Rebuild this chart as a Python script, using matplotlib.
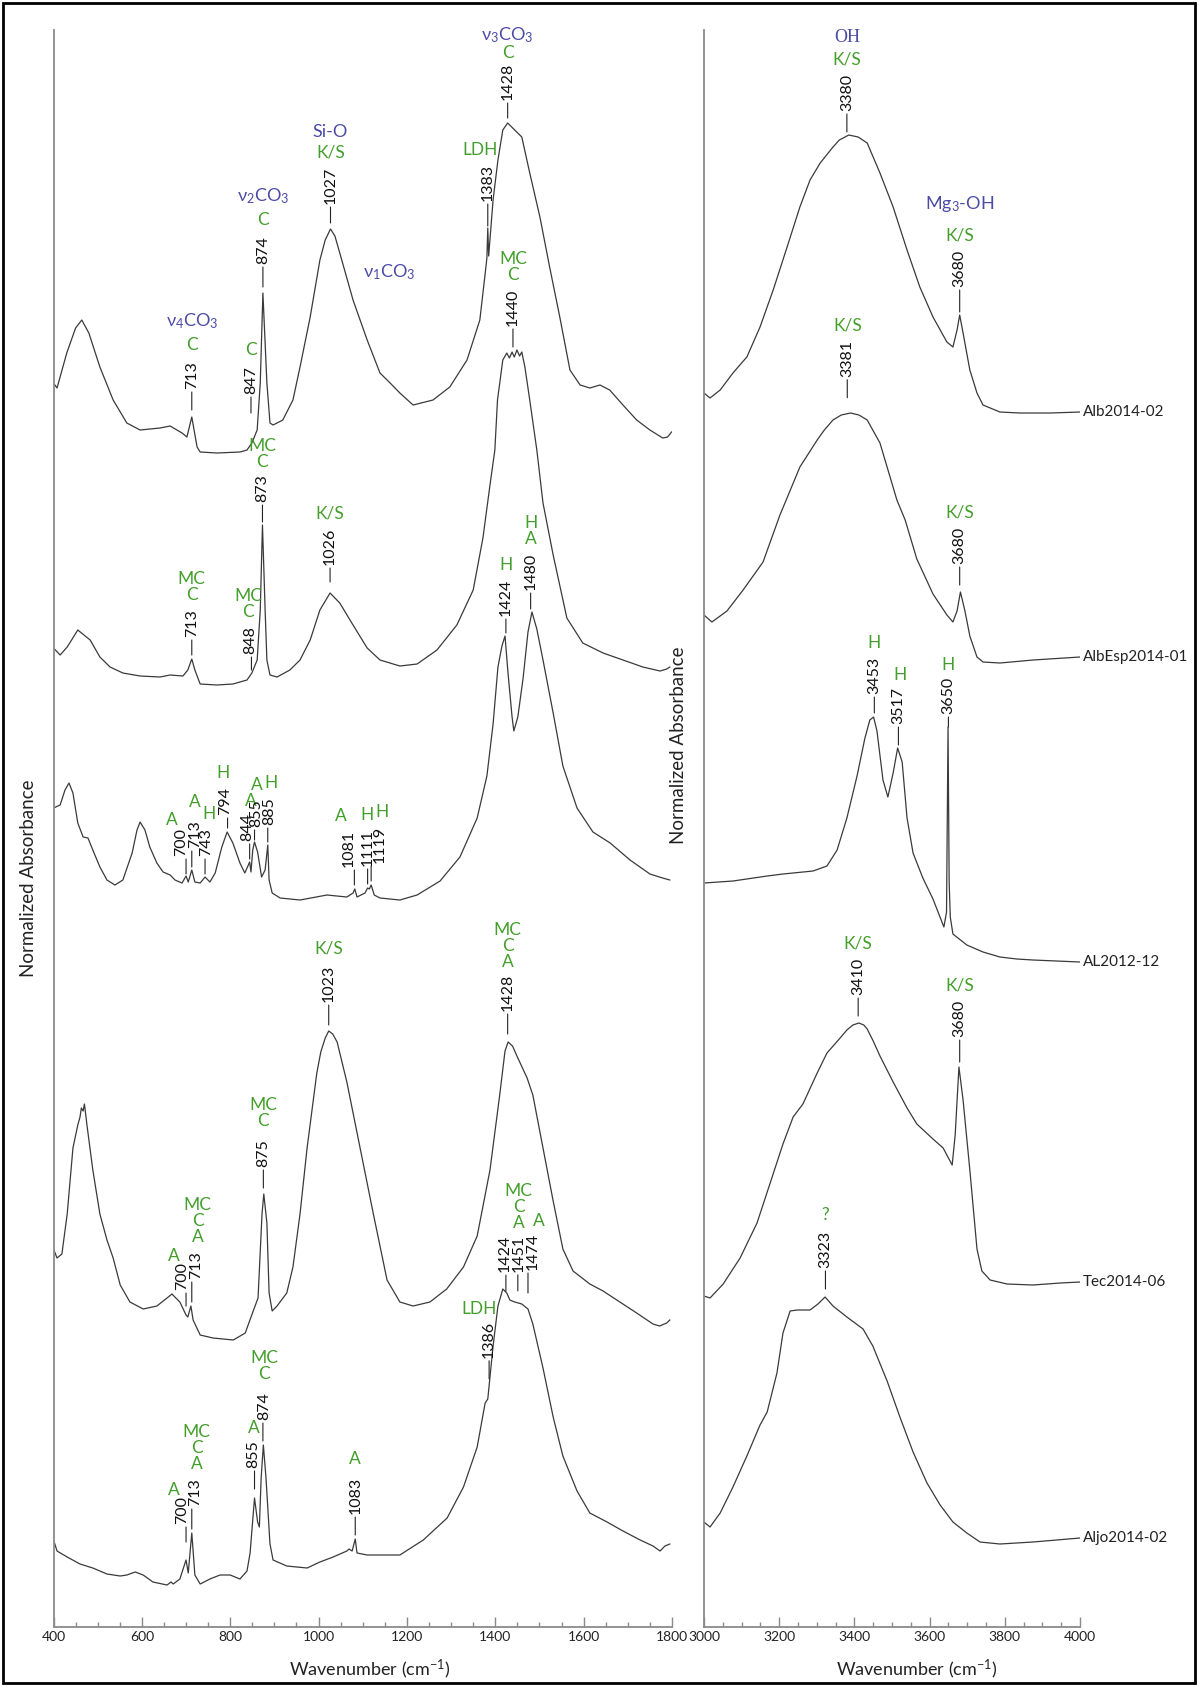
import matplotlib
matplotlib.use('Agg')
import matplotlib.pyplot as plt
import numpy as np
from matplotlib.patches import Rectangle

plt.rcParams['font.family'] = ['Lato', 'DejaVu Sans']
plt.rcParams['mathtext.fontset'] = 'custom'
plt.rcParams['mathtext.rm'] = 'Lato'
plt.rcParams['mathtext.it'] = 'Lato:italic'
plt.rcParams['mathtext.default'] = 'regular'
plt.rcParams['mathtext.fallback'] = 'stix'

GREEN = '#449e2c'
BLUE = '#4b4ba6'
SPINE = '#8a8a8a'
LINE = '#3a3a3a'

SAMPLES = ['Alb2014-02', 'AlbEsp2014-01', 'AL2012-12', 'Tec2014-06', 'Aljo2014-02']

# absorbance x1000, each trace above its own minimum
# 400-1800 cm-1 region
alb_mid_wn = [400, 408, 430, 450, 464, 480, 505, 535, 566, 596, 641, 664, 691, 702, 713, 725, 732, 770, 822, 838,
              849, 861, 868, 874, 883, 890, 897, 919, 942, 958, 981, 1003, 1015, 1027, 1037, 1048, 1078, 1110, 1139, 1162,
              1184, 1214, 1259, 1297, 1336, 1365, 1378, 1381, 1383, 1385, 1395, 1406, 1417, 1428, 1444, 1460, 1478, 1501, 1523, 1546,
              1569, 1592, 1614, 1637, 1659, 1689, 1720, 1750, 1779, 1790, 1799]
alb_mid_abs = [70, 65, 100, 125, 133, 120, 86, 53, 30, 23, 25, 27, 20, 16, 36, 6, 1, 0, 1, 3,
               10, 23, 70, 160, 70, 30, 28, 33, 53, 86, 136, 193, 213, 224, 217, 200, 153, 113, 80, 70,
               60, 48, 53, 66, 93, 133, 183, 195, 225, 197, 253, 293, 323, 330, 323, 316, 280, 236, 186, 136,
               83, 68, 65, 68, 63, 48, 33, 23, 15, 16, 21]

albesp_mid_wn = [400, 415, 431, 455, 483, 505, 528, 557, 596, 641, 664, 693, 704, 713, 720, 732, 770, 806, 838, 849,
                 861, 868, 873, 879, 883, 890, 906, 935, 958, 981, 1003, 1026, 1048, 1078, 1110, 1139, 1184, 1223, 1268, 1313,
                 1350, 1372, 1388, 1399, 1405, 1417, 1426, 1432, 1438, 1443, 1449, 1455, 1460, 1467, 1478, 1494, 1508, 1531, 1562, 1598,
                 1644, 1689, 1734, 1773, 1788, 1795]
albesp_mid_abs = [37, 30, 38, 55, 45, 28, 18, 12, 9, 8, 10, 9, 15, 26, 15, 1, 0, 1, 5, 12,
                  25, 75, 160, 75, 25, 10, 8, 15, 25, 45, 75, 92, 82, 60, 37, 25, 19, 21, 35, 60,
                  95, 147, 200, 235, 285, 325, 332, 327, 333, 328, 335, 329, 333, 318, 285, 235, 182, 130, 67, 42,
                  32, 25, 18, 14, 16, 18]

al_mid_wn = [400, 415, 426, 435, 444, 455, 467, 478, 489, 505, 521, 539, 557, 578, 589, 596, 607, 618, 634, 648,
             664, 675, 691, 700, 705, 713, 720, 732, 743, 754, 766, 781, 793, 806, 822, 833, 844, 847, 851, 855,
             862, 871, 879, 885, 888, 895, 913, 958, 1019, 1064, 1078, 1082, 1087, 1105, 1111, 1115, 1119, 1126, 1139, 1184,
             1223, 1275, 1320, 1359, 1381, 1395, 1406, 1415, 1422, 1429, 1438, 1442, 1451, 1463, 1474, 1483, 1494, 1508, 1531, 1553,
             1585, 1621, 1660, 1705, 1750, 1779, 1795]
al_mid_abs = [93, 96, 111, 118, 108, 78, 64, 63, 51, 34, 21, 16, 21, 48, 71, 79, 71, 54, 38, 29,
              26, 21, 18, 25, 19, 31, 19, 18, 24, 19, 28, 54, 69, 58, 38, 28, 39, 29, 51, 59,
              49, 24, 31, 56, 21, 8, 3, 1, 6, 4, 8, 12, 4, 8, 13, 12, 16, 6, 3, 1,
              6, 20, 44, 83, 125, 177, 234, 255, 265, 227, 184, 170, 184, 223, 269, 289, 272, 241, 188, 135,
              93, 69, 58, 41, 27, 23, 21]

tec_mid_wn = [400, 408, 419, 431, 444, 455, 460, 463, 467, 470, 473, 476, 489, 505, 521, 535, 551, 573, 603, 634,
              657, 668, 686, 700, 704, 711, 716, 732, 761, 807, 834, 852, 863, 872, 876, 883, 888, 895, 906, 928,
              942, 958, 974, 996, 1005, 1015, 1023, 1032, 1042, 1064, 1094, 1124, 1155, 1184, 1214, 1252, 1290, 1328, 1359, 1388,
              1410, 1422, 1429, 1439, 1449, 1472, 1485, 1508, 1531, 1553, 1576, 1614, 1644, 1682, 1720, 1757, 1772, 1788, 1795]
tec_mid_abs = [91, 82, 86, 126, 192, 215, 223, 232, 229, 236, 225, 214, 170, 126, 100, 82, 55, 38, 31, 34,
               42, 46, 38, 25, 23, 34, 20, 5, 2, 0, 7, 29, 42, 126, 146, 117, 47, 29, 34, 47,
               73, 126, 192, 267, 288, 302, 309, 306, 298, 258, 192, 126, 60, 38, 34, 38, 51, 73, 104, 170,
               245, 289, 298, 294, 284, 262, 245, 192, 139, 91, 69, 56, 49, 38, 27, 16, 14, 17, 20]

aljo_mid_wn = [400, 403, 408, 431, 460, 489, 521, 551, 566, 585, 603, 625, 657, 666, 671, 686, 700, 705, 713, 720,
               732, 754, 777, 800, 822, 838, 845, 855, 862, 866, 870, 875, 881, 890, 897, 928, 974, 1003, 1033, 1064,
               1069, 1076, 1083, 1087, 1110, 1184, 1237, 1291, 1328, 1359, 1377, 1383, 1395, 1406, 1417, 1426, 1433, 1444, 1460, 1474,
               1485, 1508, 1531, 1553, 1585, 1614, 1653, 1689, 1728, 1757, 1773, 1784, 1795]
aljo_mid_abs = [45, 41, 34, 28, 21, 17, 11, 9, 10, 13, 10, 3, 0, 3, 1, 6, 25, 12, 52, 10,
                1, 6, 10, 10, 6, 14, 32, 87, 63, 58, 107, 140, 107, 41, 25, 19, 17, 23, 28, 34,
                36, 34, 46, 32, 30, 30, 45, 67, 98, 138, 182, 186, 239, 279, 296, 292, 285, 283, 281, 276,
                261, 217, 168, 129, 94, 72, 63, 54, 45, 39, 34, 39, 41]

# 3000-4000 cm-1 region
alb_oh_wn = [3000, 3016, 3043, 3077, 3100, 3114, 3149, 3184, 3221, 3255, 3282, 3309, 3343, 3360, 3385, 3410, 3434, 3468, 3503, 3540,
             3574, 3609, 3646, 3662, 3673, 3680, 3689, 3707, 3726, 3742, 3787, 3840, 3920, 4000]
alb_oh_abs = [20, 15, 23, 40, 50, 56, 86, 123, 166, 206, 233, 250, 266, 273, 278, 276, 270, 240, 206, 163,
              126, 96, 71, 66, 83, 98, 80, 43, 20, 8, 1, 0, 0, 1]

albesp_oh_wn = [3000, 3021, 3061, 3104, 3157, 3202, 3255, 3301, 3320, 3343, 3365, 3390, 3412, 3434, 3468, 3513, 3535, 3566, 3609, 3646,
                3662, 3673, 3682, 3694, 3707, 3726, 3742, 3787, 3875, 4000]
albesp_oh_abs = [48, 41, 52, 73, 101, 148, 196, 223, 233, 243, 248, 250, 248, 243, 220, 163, 143, 104, 69, 48,
                 41, 52, 71, 52, 27, 6, 1, 0, 3, 6]

al_oh_wn = [3000, 3077, 3168, 3210, 3290, 3327, 3354, 3380, 3407, 3428, 3441, 3451, 3460, 3476, 3489, 3503, 3515, 3527, 3540, 3556,
            3582, 3609, 3638, 3645, 3649, 3652, 3655, 3662, 3699, 3742, 3787, 3832, 3875, 4000]
al_oh_abs = [79, 81, 86, 88, 91, 96, 112, 144, 186, 224, 242, 245, 231, 182, 165, 189, 214, 200, 144, 109,
             84, 63, 35, 50, 235, 80, 45, 28, 17, 10, 5, 3, 2, 0]

tec_oh_wn = [3000, 3016, 3051, 3096, 3141, 3176, 3210, 3237, 3263, 3301, 3327, 3362, 3380, 3396, 3412, 3425, 3434, 3450, 3468, 3503,
             3540, 3566, 3609, 3636, 3660, 3668, 3678, 3689, 3707, 3726, 3739, 3761, 3806, 3875, 3947, 4000]
tec_oh_abs = [2, 0, 14, 40, 75, 115, 154, 181, 194, 225, 245, 260, 268, 273, 275, 273, 269, 257, 242, 216,
              190, 174, 159, 150, 133, 163, 231, 198, 128, 49, 27, 18, 14, 13, 15, 16]

aljo_oh_wn = [3000, 3016, 3043, 3077, 3114, 3149, 3168, 3194, 3210, 3229, 3247, 3282, 3303, 3322, 3343, 3380, 3423, 3449, 3487, 3521,
              3556, 3593, 3628, 3662, 3699, 3734, 3787, 3875, 4000]
aljo_oh_abs = [22, 17, 31, 57, 88, 119, 132, 171, 211, 233, 234, 234, 240, 247, 238, 227, 215, 198, 163, 127,
               92, 61, 39, 22, 11, 2, 0, 2, 6]

mid = [(alb_mid_wn, alb_mid_abs), (albesp_mid_wn, albesp_mid_abs), (al_mid_wn, al_mid_abs),
       (tec_mid_wn, tec_mid_abs), (aljo_mid_wn, aljo_mid_abs)]
oh = [(alb_oh_wn, alb_oh_abs), (albesp_oh_wn, albesp_oh_abs), (al_oh_wn, al_oh_abs),
      (tec_oh_wn, tec_oh_abs), (aljo_oh_wn, aljo_oh_abs)]

# vertical stacking of the traces
mid_shift = [1174, 942, 726, 287, 42]
oh_shift = [1214, 964, 665, 329, 83]

# (panel, trace, peak, gap px, tick px, number dx, green, green dx, green dy, blue, blue gap)
peaks = [
    (0, 0, 713, 7, 18, 0, 'C', 0, 8, r'$\mathrm{\nu}_4$CO$_3$', 6),
    (0, 0, 847, 30, 16, 0, 'C', 0, 8, None, 0),
    (0, 0, 874, 6, 20, 0, 'C', 0, 8, r'$\mathrm{\nu}_2$CO$_3$', 6),
    (0, 0, 1027, 6, 16, 0, 'K/S', 0, 6, 'Si-O', 5),
    (0, 0, 1383, 2, 22, 0, 'LDH', -8, 6, None, 0),
    (0, 0, 1428, 5, 15, 0, 'C', 0, 2, r'$\mathrm{\nu}_3$CO$_3$', 0),
    (0, 1, 713, 4, 15, 0, 'MC\nC', 0, 6, None, 0),
    (0, 1, 848, 3, 13, -1, 'MC\nC', -2, 6, None, 0),
    (0, 1, 873, 3, 17, 0, 'MC\nC', 0, 4, None, 0),
    (0, 1, 1026, 11, 14, 0, 'K/S', 0, 6, None, 0),
    (0, 1, 1440, 5, 18, 0, 'MC\nC', 0, 6, None, 0),
    (0, 2, 700, 2, 15, -5, 'A', -9, 0, None, 0),
    (0, 2, 713, 3, 16, 3, 'A', 0, 10, None, 0),
    (0, 2, 743, 3, 15, 1, 'H', 3, 6, None, 0),
    (0, 2, 794, 4, 10, -2, 'H', -3, 6, None, 0),
    (0, 2, 844, 3, 15, -2, 'A', 3, 4, None, 0),
    (0, 2, 855, 2, 10, 2, 'A', 0, 6, None, 0),
    (0, 2, 885, 3, 14, 1, 'H', 2, 6, None, 0),
    (0, 2, 1081, 4, 15, -6, 'A', -8, 6, None, 0),
    (0, 2, 1111, 4, 15, 0, 'H', -1, 6, None, 0),
    (0, 2, 1119, 4, 15, 9, 'H', 2, 6, None, 0),
    (0, 2, 1424, 3, 14, 0, 'H', 0, 6, None, 0),
    (0, 2, 1480, 3, 16, 0, 'H\nA', 0, 6, None, 0),
    (0, 3, 700, 9, 13, -4, 'A', -8, -2, None, 0),
    (0, 3, 713, 4, 20, 4, 'MC\nC\nA', 2, 6, None, 0),
    (0, 3, 875, 6, 18, 0, 'MC\nC', 0, 10, None, 0),
    (0, 3, 1023, 6, 20, 0, 'K/S', 0, 8, None, 0),
    (0, 3, 1428, 8, 20, 0, 'MC\nC\nA', 0, 4, None, 0),
    (0, 4, 700, 18, 15, -4, 'A', -8, -2, None, 0),
    (0, 4, 713, 4, 20, 3, 'MC\nC\nA', 2, 6, None, 0),
    (0, 4, 855, 9, 18, -1, 'A', 0, 4, None, 0),
    (0, 4, 874, 4, 18, 1, 'MC\nC', 0, 10, None, 0),
    (0, 4, 1083, 4, 18, 0, 'A', 0, 10, None, 0),
    (0, 4, 1386, 7, 18, 0, 'LDH', -10, 4, None, 0),
    (0, 4, 1424, 1, 16, -1, '', 0, 0, None, 0),
    (0, 4, 1451, 12, 16, 1, 'MC\nC\nA', 0, 4, None, 0),
    (0, 4, 1474, 16, 20, 5, 'A', 6, 4, None, 0),
    (1, 0, 3380, 3, 18, 0, 'K/S', 0, 6, 'OH', 6),
    (1, 0, 3680, 3, 22, 0, 'K/S', 0, 6, r'Mg$_3$-OH', 14),
    (1, 1, 3381, 16, 18, 0, 'K/S', 0, 6, None, 0),
    (1, 1, 3680, 7, 18, 0, 'K/S', 0, 6, None, 0),
    (1, 2, 3453, 4, 16, 0, 'H', 0, 6, None, 0),
    (1, 2, 3517, 3, 18, 0, 'H', 2, 4, None, 0),
    (1, 2, 3650, 0, 10, 0, 'H', 0, 4, None, 0),
    (1, 3, 3410, 7, 18, 0, 'K/S', 0, 6, None, 0),
    (1, 3, 3680, 5, 22, 0, 'K/S', 0, 6, None, 0),
    (1, 4, 3323, 8, 18, 0, '?', 0, 8, None, 0),
]

fig = plt.figure(figsize=(11.98, 16.86), dpi=100)
ax1 = fig.add_axes([0.04466, 0.03499, 0.51628, 0.94721])
ax2 = fig.add_axes([0.58765, 0.03499, 0.31386, 0.94721])
panels = [(ax1, mid, mid_shift), (ax2, oh, oh_shift)]

for ax, traces, shift in panels:
    for (wn, a), s in zip(traces, shift):
        ax.plot(wn, np.array(a) + s, color=LINE, lw=0.9)
    ax.set_ylim(0, 1597)
    for side in ['top', 'right']:
        ax.spines[side].set_visible(False)
    for side in ['left', 'bottom']:
        ax.spines[side].set_color(SPINE)
        ax.spines[side].set_linewidth(1.3)
    ax.set_yticks([])
    ax.tick_params(axis='x', which='major', direction='in', length=7, width=1, color=SPINE,
                   labelsize=10, pad=3, labelcolor='#222')
    ax.tick_params(axis='x', which='minor', direction='in', length=3.5, width=1, color=SPINE)
    ax.set_xlabel('Wavenumber (cm$^{-1}$)', fontsize=13, color='#222')
    ax.set_ylabel('Normalized Absorbance', fontsize=13.5, color='#222')

ax1.set_xlim(400, 1800)
ax1.set_xticks(np.arange(400, 1801, 200))
ax1.set_xticks(np.arange(400, 1801, 50), minor=True)
ax2.set_xlim(3000, 4000)
ax2.set_xticks(np.arange(3000, 4001, 200))
ax2.set_xticks(np.arange(3000, 4001, 50), minor=True)

ax1.xaxis.set_label_coords(0.512, -0.019)
ax2.xaxis.set_label_coords(0.566, -0.019)
ax1.yaxis.set_label_coords(-0.027, 0.469)
ax2.yaxis.set_label_coords(-0.045, 0.552)


def peak_top(wn, a, s, p):
    w = np.asarray(wn)
    v = np.asarray(a) + s
    near = (w >= p - 6) & (w <= p + 6)
    if near.any():
        return max(v[near].max(), np.interp(p, w, v))
    return np.interp(p, w, v)


for panel, k, p, gap, tick, ndx, green, gdx, gdy, blue, bgap in peaks:
    ax, traces, shift = panels[panel]
    wn, a = traces[k]
    top = peak_top(wn, a, shift[k], p)
    ax.annotate('', xy=(p, top), xytext=(0, gap + tick), textcoords='offset pixels',
                arrowprops=dict(arrowstyle='-', lw=0.8, color='#222', shrinkA=0, shrinkB=gap * 0.72))
    num = ax.annotate(str(p), xy=(p, top), xytext=(ndx, gap + tick + 3), textcoords='offset pixels',
                      rotation=90, ha='center', va='bottom', fontsize=11.5, color='#111')
    if green:
        g = ax.annotate(green, xy=(0.5, 1), xycoords=num, xytext=(gdx, gdy), textcoords='offset pixels',
                        ha='center', va='bottom', fontsize=12.5, color=GREEN, linespacing=1.0)
        if blue:
            fam = ['Liberation Serif', 'DejaVu Serif'] if blue == 'OH' else None
            ax.annotate(blue, xy=(0.5, 1), xycoords=g, xytext=(0, bgap), textcoords='offset pixels',
                        ha='center', va='bottom', fontsize=13, color=BLUE, family=fam)

# free band label
ax1.annotate(r'$\mathrm{\nu}_1$CO$_3$', xy=(1160, peak_top(alb_mid_wn, alb_mid_abs, mid_shift[0], 1160)),
             xytext=(0, 110), textcoords='offset pixels', ha='center', va='center',
             fontsize=13, color=BLUE)

# sample names at the end of each high-wavenumber trace
for (wn, a), s, name in zip(oh, oh_shift, SAMPLES):
    ax2.annotate(name, xy=(wn[-1], a[-1] + s), xytext=(3, 0), textcoords='offset pixels',
                 ha='left', va='center', fontsize=11, color='#222', annotation_clip=False)

fig.add_artist(Rectangle((0.0025, 0.0018), 0.995, 0.9964, transform=fig.transFigure,
                         fill=False, lw=2, ec='black'))

fig.savefig('out.png', dpi=100, facecolor='white')
